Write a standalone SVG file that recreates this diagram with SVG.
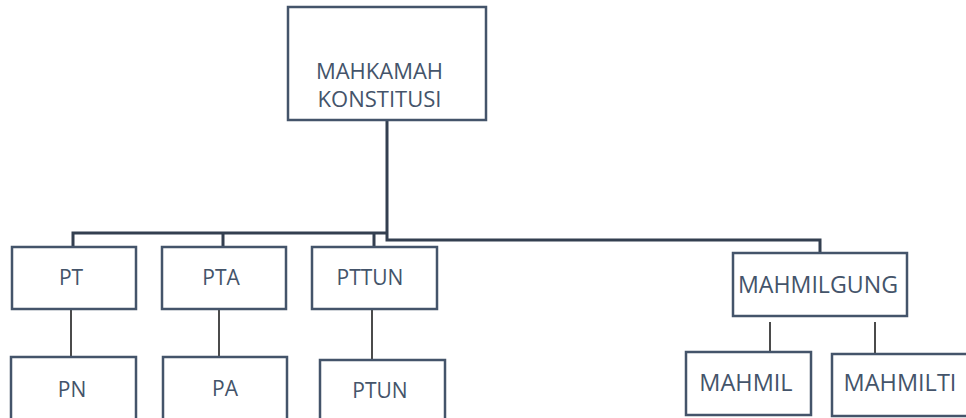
<svg xmlns="http://www.w3.org/2000/svg" width="966" height="418" viewBox="0 0 966 418">
<style>
.box{fill:#fff;stroke:#44546A;stroke-width:2.5}
.t{font-family:"Open Sans","Liberation Sans",sans-serif;fill:#44546A;text-anchor:middle}
.thick{fill:none;stroke:#333F50;stroke-width:3}
.thin{fill:none;stroke:#111;stroke-width:1.5}
</style>
<rect width="966" height="418" fill="#fff"/>
<g id="connectors">
<path class="thick" d="M387,120 V240 H820 V253"/>
<path class="thick" d="M387,233 H73 V247 M223,233 V247 M374,233 V247"/>
<path class="thin" d="M71,309 V359 M219,309 V359 M372,309 V360 M770,322 V358 M875,322 V358"/>
</g>
<g id="mk">
<rect class="box" x="288" y="7" width="198" height="113"/>
<text class="t" x="379.5" y="79" font-size="22">MAHKAMAH</text>
<text class="t" x="379.5" y="107" font-size="22">KONSTITUSI</text>
</g>
<g id="pt"><rect class="box" x="12" y="247" width="124" height="62"/><text class="t" x="71" y="285" font-size="21">PT</text></g>
<g id="pta"><rect class="box" x="162" y="247" width="124" height="62"/><text class="t" x="221" y="285" font-size="21">PTA</text></g>
<g id="pttun"><rect class="box" x="312" y="247" width="125" height="62"/><text class="t" x="370" y="285" font-size="21">PTTUN</text></g>
<g id="pn"><rect class="box" x="11" y="357" width="125" height="70"/><text class="t" x="72" y="397" font-size="21">PN</text></g>
<g id="pa"><rect class="box" x="163" y="357" width="124" height="70"/><text class="t" x="225" y="396" font-size="21">PA</text></g>
<g id="ptun"><rect class="box" x="320" y="360" width="125" height="70"/><text class="t" x="380" y="398" font-size="21">PTUN</text></g>
<g id="mahmilgung"><rect class="box" x="733" y="253" width="174" height="63"/><text class="t" x="818" y="293" font-size="23.2">MAHMILGUNG</text></g>
<g id="mahmil"><rect class="box" x="686" y="352" width="125" height="63"/><text class="t" x="746" y="391" font-size="23.5">MAHMIL</text></g>
<g id="mahmilti"><rect class="box" x="832" y="354" width="140" height="62"/><text class="t" x="900" y="391" font-size="23.5">MAHMILTI</text></g>
</svg>
